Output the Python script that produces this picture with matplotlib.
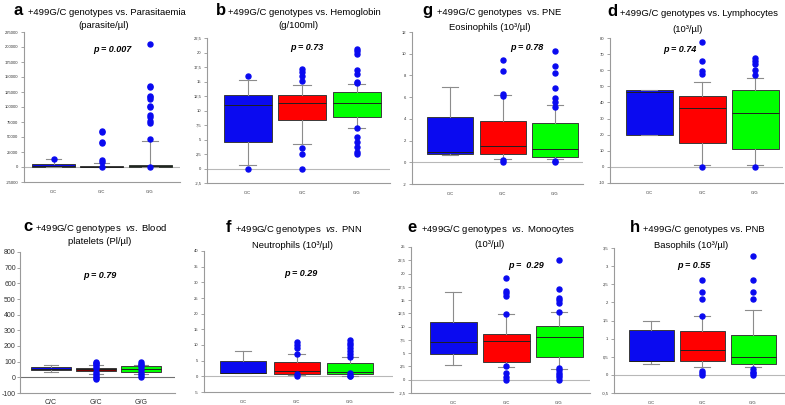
import matplotlib
matplotlib.use("Agg")
import matplotlib.pyplot as plt
import numpy as np

plt.rcParams['font.family'] = ['Liberation Sans', 'DejaVu Sans']
plt.rcParams['mathtext.fontset'] = 'custom'
plt.rcParams['mathtext.rm'] = 'Liberation Sans'
plt.rcParams['mathtext.it'] = 'Liberation Sans:italic'

W, H = 785, 405
GENOTYPES = ["C/C", "G/C", "G/G"]

# a - parasitaemia (parasite/ul)
A_LOW = [0, 0, 0]
A_Q1 = [0, 0, 0]
A_MED = [2500, 500, 1500]
A_Q3 = [5000, 1200, 3500]
A_HIGH = [13000, 6000, 43000]
A_OUT = [[14000],
         [0, 9000, 11000, 40000, 42000, 58000, 60000],
         [0, 46000, 73000, 77000, 83000, 87000, 100000, 101000, 113000, 116000,
          119000, 133000, 135000, 205000]]

# b - hemoglobin (g/100ml)
B_LOW = [0.6, 4.2, 6.9]
B_Q1 = [4.5, 8.4, 8.9]
B_MED = [11.0, 11.25, 11.25]
B_Q3 = [12.6, 12.75, 13.2]
B_HIGH = [15.3, 14.4, 14.6]
B_OUT = [[16.0, 0.0],
         [17.2, 16.7, 16.0, 15.1, 3.5, 2.5, 0.0],
         [20.6, 20.3, 19.7, 16.9, 16.3, 15.0, 14.7, 6.9, 5.5, 4.6, 3.75, 2.9, 2.5]]

# g - eosinophils
G_LOW = [0.67, 0.3, 0.27]
G_Q1 = [0.76, 0.73, 0.52]
G_MED = [0.98, 1.5, 1.2]
G_Q3 = [4.2, 3.8, 3.6]
G_HIGH = [6.95, 6.2, 5.26]
G_OUT = [[],
         [9.4, 8.4, 6.3, 6.1, 0.2, 0.05],
         [10.25, 8.9, 8.2, 6.85, 5.9, 5.55, 5.1, 0.12, 0.0]]

# d - lymphocytes
D_LOW = [19.5, 1.0, 1.0]
D_Q1 = [19.5, 15.0, 10.9]
D_MED = [46.6, 36.3, 33.4]
D_Q3 = [47.8, 44.1, 47.8]
D_HIGH = [47.8, 52.7, 55.4]
D_OUT = [[],
         [77.5, 66.0, 59.5, 57.4, 0.0],
         [67.5, 66.0, 63.6, 60.0, 56.8, 0.0]]

# c - blood platelets
C_LOW = [34, 24, 24]
C_Q1 = [45, 40, 32]
C_MED = [56, 51, 52]
C_Q3 = [66, 62, 70]
C_HIGH = [77, 81, 77]
C_OUT = [[],
         [97, 90, 82, 72, 60, 35, 22, 8, -5, -12],
         [95, 88, 80, 66, 50, 30, 15, 2]]

# f - neutrophils
F_LOW = [0.95, 0.4, 0.25]
F_Q1 = [0.95, 0.8, 0.6]
F_MED = [1.2, 1.8, 1.4]
F_Q3 = [5.0, 4.5, 4.3]
F_HIGH = [8.0, 7.1, 6.3]
F_OUT = [[],
         [11.0, 10.1, 9.2, 7.1, 0.6, 0.0],
         [11.7, 10.7, 9.9, 8.9, 8.0, 7.1, 6.2, 1.2, 0.25, 0.0]]

# e - monocytes
E_LOW = [2.7, 2.4, 2.0]
E_Q1 = [4.9, 3.3, 4.3]
E_MED = [7.2, 7.35, 8.0]
E_Q3 = [10.9, 8.7, 10.2]
E_HIGH = [16.5, 12.4, 12.7]
E_OUT = [[],
         [19.2, 16.8, 16.3, 15.7, 12.4, 2.5, 1.25, 0.6, 0.0],
         [22.6, 17.0, 15.4, 14.95, 14.4, 12.7, 2.2, 1.76, 1.25, 0.8, 0.44, 0.0]]

# h - basophils
H_LOW = [0.3, 0.21, 0.21]
H_Q1 = [0.37, 0.39, 0.3]
H_MED = [0.38, 0.7, 0.5]
H_Q3 = [1.25, 1.2, 1.09]
H_HIGH = [1.5, 1.62, 1.8]
H_OUT = [[],
         [2.61, 2.29, 2.1, 1.62, 0.12, 0.06, 0.0],
         [3.29, 2.61, 2.29, 2.1, 0.16, 0.09, 0.05, 0.0]]

BLUE, RED, GREEN = '#0a0af0', '#ff0000', '#00ff00'

fig = plt.figure(figsize=(W / 100, H / 100), dpi=100)


def comma(v):
    s = ('%g' % v).replace('.', ',')
    return s


def box_panel(rect, centers, bw, ylim, step, low, q1, med, q3, high, out,
              colors, tsize=3, zcolor='#b8b8b8'):
    L, T, R, B = rect
    ax = fig.add_axes([L / W, 1 - B / H, (R - L) / W, (B - T) / H])
    d = (centers[1] - centers[0]) / 2.0
    ax.set_xlim(1 - (centers[0] - L) / d, 1 + (R - centers[0]) / d)
    ax.set_ylim(*ylim)
    stats = []
    for i in range(3):
        stats.append(dict(med=med[i], q1=q1[i], q3=q3[i], whislo=low[i],
                          whishi=high[i], fliers=out[i]))
    w = bw / d
    ax.axhline(0, color=zcolor, lw=0.8, zorder=0)
    bp = ax.bxp(stats, positions=[1, 2, 3], widths=w, capwidths=w * 0.36,
                patch_artist=True, manage_ticks=False,
                boxprops=dict(edgecolor='#3a3a3a', linewidth=0.7),
                whiskerprops=dict(color='#8c8c8c', linewidth=0.8),
                capprops=dict(color='#8c8c8c', linewidth=0.8),
                medianprops=dict(color='#202020', linewidth=0.7),
                flierprops=dict(marker='o', markerfacecolor=BLUE,
                                markeredgecolor=BLUE, markersize=3.6))
    for patch, c in zip(bp['boxes'], colors):
        patch.set_facecolor(c)
    for fl in bp['fliers']:
        fl.set_zorder(5)
    ticks = np.arange(ylim[0], ylim[1] + step / 2, step)
    ax.set_yticks(ticks)
    ax.set_yticklabels([comma(t) for t in ticks], fontsize=tsize, color='#303030')
    ax.set_xticks([1, 2, 3])
    ax.set_xticklabels(GENOTYPES, fontsize=tsize, color='#303030')
    ax.tick_params(axis='x', length=0, pad=6 if tsize < 4 else 4)
    ax.tick_params(axis='y', length=2, width=0.5, color='#808080',
                   pad=2 if tsize < 4 else 1)
    for s in ['top', 'right']:
        ax.spines[s].set_visible(False)
    for s in ['left', 'bottom']:
        ax.spines[s].set_color('#9a9a9a')
        ax.spines[s].set_linewidth(0.8)
    return ax


def title(letter, line1, line2, lx, x1, y1, x2, y2):
    fig.text(lx / W, 1 - y1 / H, letter, fontsize=12, fontweight='bold',
             ha='left', va='baseline')
    fig.text(x1 / W, 1 - y1 / H, line1, fontsize=6.8, ha='left', va='baseline')
    fig.text(x2 / W, 1 - y2 / H, line2, fontsize=6.8, ha='center', va='center')


def pval(txt, x, y, size=6.5):
    fig.text(x / W, 1 - y / H, txt, fontsize=size, fontweight='bold',
             style='italic', ha='center', va='center')


# top row
box_panel((24, 32, 180, 182), (53.5, 150), 43, (-25000, 225000), 25000,
          A_LOW, A_Q1, A_MED, A_Q3, A_HIGH, A_OUT, [BLUE, '#4a4a4a', GREEN])
title('a', '+499G/C genotypes vs. Parasitaemia', '(parasite/µl)', 13, 28, 15, 104, 25)
pval('p = 0.007', 112, 50)

box_panel((207, 38, 390, 183), (247.5, 356.5), 48, (-2.5, 22.5), 2.5,
          B_LOW, B_Q1, B_MED, B_Q3, B_HIGH, B_OUT, [BLUE, RED, GREEN])
title('b', '+499G/C genotypes vs. Hemoglobin', '(g/100ml)', 216, 228, 15, 298, 25)
pval('p = 0.73', 307, 48)

box_panel((412, 32, 583, 184), (450, 555), 46, (-2, 12), 2,
          G_LOW, G_Q1, G_MED, G_Q3, G_HIGH, G_OUT, [BLUE, RED, GREEN])
title('g', '+499G/C genotypes  vs. PNE', 'Eosinophils (10³/µl)', 422, 437, 15, 490, 28)
pval('p = 0.78', 527, 47)

box_panel((610, 38, 783, 183), (649, 755), 47, (-10, 80), 10,
          D_LOW, D_Q1, D_MED, D_Q3, D_HIGH, D_OUT, [BLUE, RED, GREEN])
title('d', '+499G/C genotypes vs. Lymphocytes', '(10³/µl)', 607, 620, 16, 688, 30)
pval('p = 0.74', 680, 50)

# bottom row
box_panel((20, 252, 175, 393), (51, 141), 40, (-100, 800), 100,
          C_LOW, C_Q1, C_MED, C_Q3, C_HIGH, C_OUT, [BLUE, '#7a0000', GREEN],
          tsize=5, zcolor='#707070')
title('c', r'+499G/C genotypes  $\it{vs.}$ Blood', 'platelets (Pl/µl)', 23, 35, 231, 100, 242)
pval('p = 0.79', 100, 275)

box_panel((204, 251, 393, 392), (243, 350), 46, (-5, 40), 5,
          F_LOW, F_Q1, F_MED, F_Q3, F_HIGH, F_OUT, [BLUE, RED, GREEN])
title('f', r'+499G/C genotypes  $\it{vs.}$ PNN', 'Neutrophils (10³/µl)', 226, 235, 232, 292, 245)
pval('p = 0.29', 301, 273)

box_panel((411, 247, 590, 393), (453, 559), 47, (-2.5, 25), 2.5,
          E_LOW, E_Q1, E_MED, E_Q3, E_HIGH, E_OUT, [BLUE, RED, GREEN])
title('e', r'+499G/C genotypes  $\it{vs.}$ Monocytes', '(10³/µl)', 407, 421, 232, 490, 244)
pval('p =  0.29', 526, 266)

box_panel((614, 248, 785, 393), (651, 753), 45, (-0.5, 3.5), 0.5,
          H_LOW, H_Q1, H_MED, H_Q3, H_HIGH, H_OUT, [BLUE, RED, GREEN])
title('h', '+499G/C genotypes vs. PNB', 'Basophils (10³/µl)', 630, 643, 232, 691, 245)
pval('p = 0.55', 694, 266)

fig.savefig('out.png', dpi=100)
